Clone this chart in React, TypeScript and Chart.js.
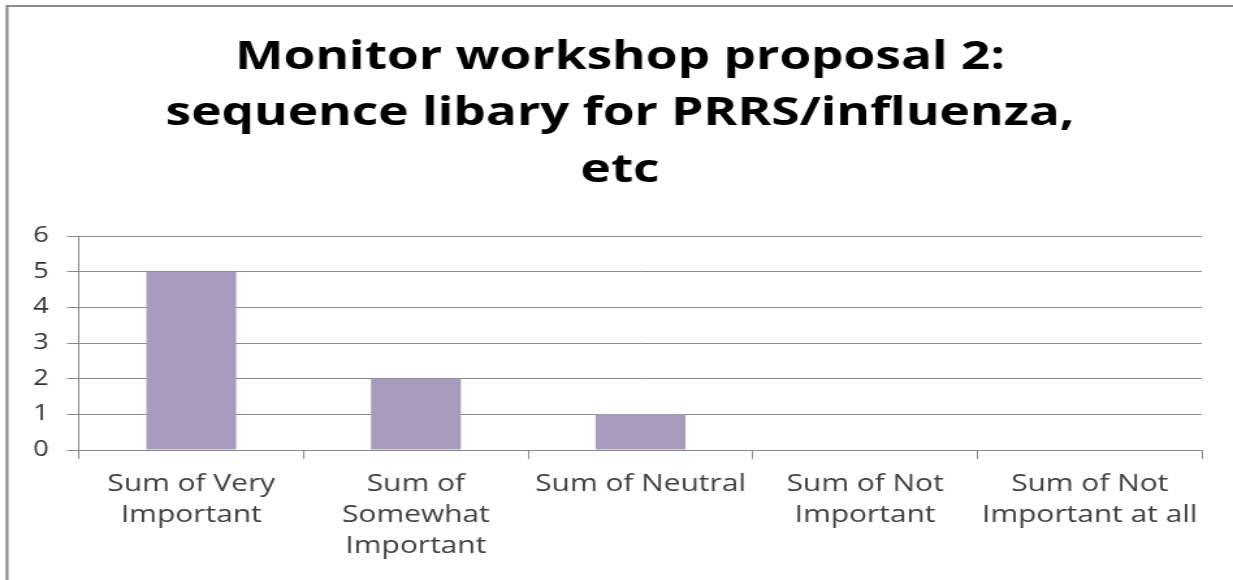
import React, { useEffect, useRef } from "react";
import { Chart, registerables } from "chart.js";

Chart.register(...registerables);

const titleLines = ["Monitor workshop proposal 2:", "sequence libary for PRRS/influenza,", "etc"];
const categories = [
  ["Sum of Very", "Important"],
  ["Sum of", "Somewhat", "Important"],
  ["Sum of Neutral"],
  ["Sum of Not", "Important"],
  ["Sum of Not", "Important at all"],
];
const values = [5, 2, 1, 0, 0];
const yMin = 0;
const yMax = 6;
const yStep = 1;

// the reference is horizontally stretched; draw on a narrower canvas and stretch it
const OUT_W = 1233;
const OUT_H = 580;
const CANVAS_W = 948;
const SX = OUT_W / CANVAS_W;

const GRID = "#8a8a8a";
const FONT = "'Open Sans', 'Noto Sans', sans-serif";
const TITLE_CENTER = 620 / SX;

const frame = {
  id: "frame",
  beforeDraw(chart: any) {
    const ctx = chart.ctx;
    ctx.save();
    ctx.fillStyle = "#ffffff";
    ctx.fillRect(0, 0, chart.width, chart.height);
    ctx.strokeStyle = "#8c8c8c";
    ctx.lineWidth = 2.2;
    ctx.beginPath();
    ctx.moveTo(7 / SX, chart.height + 2);
    ctx.lineTo(7 / SX, 6);
    ctx.lineTo(chart.width + 2, 6);
    ctx.stroke();
    ctx.restore();
  },
  afterLayout(chart: any) {
    const tb = chart.titleBlock;
    if (tb) {
      const shift = TITLE_CENTER - (tb.left + tb.right) / 2;
      tb.left += shift;
      tb.right += shift;
    }
  },
};

export default function App() {
  const ref = useRef<HTMLCanvasElement | null>(null);
  useEffect(() => {
    if (!ref.current) return;
    const left = 79 / SX;
    const right = 1202 / SX;
    const padRight = CANVAS_W - right;
    const padLeft = 0;
    const chart = new Chart(ref.current, {
      type: "bar",
      data: {
        labels: categories,
        datasets: [
          {
            data: values,
            backgroundColor: "#a99bbd",
            borderWidth: 0,
            barPercentage: 0.4,
            categoryPercentage: 1.0,
          },
        ],
      },
      plugins: [frame],
      options: {
        responsive: false,
        devicePixelRatio: 1,
        animation: false,
        layout: { padding: { top: 0, left: padLeft, right: padRight, bottom: 0 } },
        plugins: {
          legend: { display: false },
          tooltip: { enabled: false },
          title: {
            display: true,
            text: titleLines,
            color: "#000000",
            font: { family: FONT, size: 39.5, weight: "bold", lineHeight: "56.5px" },
            padding: { top: 29, bottom: 37.5 },
          },
        },
        scales: {
          x: {
            grid: {
              display: true,
              drawOnChartArea: false,
              drawTicks: true,
              tickLength: 9,
              color: GRID,
              offset: true,
            },
            border: { display: true, color: GRID, width: 1 },
            ticks: {
              color: "#404040",
              font: { family: FONT, size: 23, lineHeight: "31px" },
              padding: 10,
              maxRotation: 0,
              autoSkip: false,
            },
            afterFit(scale: any) {
              scale.height = OUT_H - 450;
            },
          },
          y: {
            min: yMin,
            max: yMax,
            grid: { color: GRID, drawTicks: true, tickLength: 9.2 },
            border: { display: true, color: GRID, width: 1 },
            ticks: {
              stepSize: yStep,
              color: "#333333",
              font: { family: FONT, size: 21 },
              padding: 14,
            },
            afterFit(scale: any) {
              scale.width = left - padLeft;
            },
          },
        },
      },
    });
    return () => chart.destroy();
  }, []);
  return (
    <div style={{ position: "fixed", left: 0, top: 0, width: OUT_W, height: OUT_H, background: "#fff" }}>
      <canvas
        ref={ref}
        width={CANVAS_W}
        height={OUT_H}
        style={{ display: "block", width: OUT_W + "px", height: OUT_H + "px" }}
      />
    </div>
  );
}
